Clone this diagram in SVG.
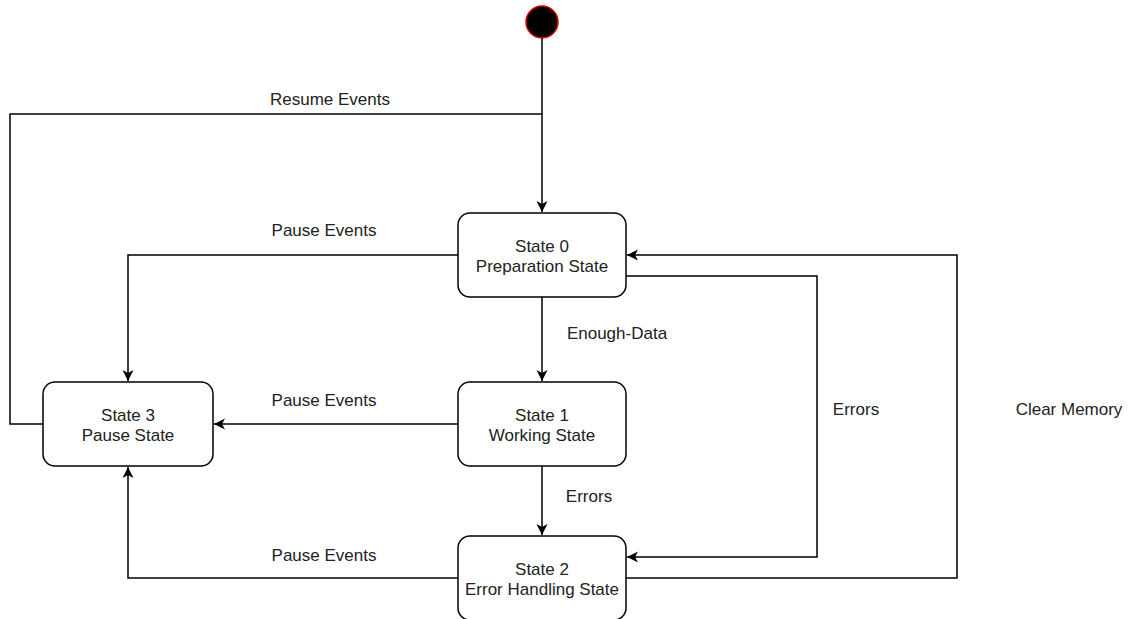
<svg xmlns="http://www.w3.org/2000/svg" width="1128" height="619" viewBox="0 0 1128 619">
<style>
.st{fill:#fff;stroke:#000;stroke-width:1.5}
.ed{fill:none;stroke:#000;stroke-width:1.5}
text{font-family:"Liberation Sans",Arial,sans-serif;font-size:17px;fill:#222;text-anchor:middle}
</style>
<defs>
<marker id="arr" viewBox="0 0 12 12" refX="11" refY="6" markerWidth="12" markerHeight="12" markerUnits="userSpaceOnUse" orient="auto">
<path d="M0,0.5 L11,6 L0,11.5 L3,6 z" fill="#000"/>
</marker>
</defs>
<rect width="1128" height="619" fill="#fff"/>
<g id="connectors">
<path class="ed" d="M542,38 V212" marker-end="url(#arr)"/>
<path class="ed" d="M43,424 H10 V114 H542"/>
<path class="ed" d="M458,255 H128 V381" marker-end="url(#arr)"/>
<path class="ed" d="M542,297 V381" marker-end="url(#arr)"/>
<path class="ed" d="M458,424 H214" marker-end="url(#arr)"/>
<path class="ed" d="M542,466 V535" marker-end="url(#arr)"/>
<path class="ed" d="M626,276 H817 V557 H627" marker-end="url(#arr)"/>
<path class="ed" d="M626,578 H957 V255 H627" marker-end="url(#arr)"/>
<path class="ed" d="M458,578 H128 V467" marker-end="url(#arr)"/>
<text x="330" y="105">Resume Events</text>
<text x="324" y="236">Pause Events</text>
<text x="617" y="339">Enough-Data</text>
<text x="324" y="406">Pause Events</text>
<text x="589" y="502">Errors</text>
<text x="856" y="415">Errors</text>
<text x="1069" y="415">Clear Memory</text>
<text x="324" y="561">Pause Events</text>
</g>
<g id="start">
<circle cx="542" cy="22" r="16" fill="#000" stroke="#e00000" stroke-width="1.5"/>
</g>
<g id="state0">
<rect class="st" x="458" y="213" width="168" height="84" rx="12"/>
<text x="542" y="252">State 0</text>
<text x="542" y="272">Preparation State</text>
</g>
<g id="state1">
<rect class="st" x="458" y="382" width="168" height="84" rx="12"/>
<text x="542" y="421">State 1</text>
<text x="542" y="441">Working State</text>
</g>
<g id="state2">
<rect class="st" x="458" y="536" width="168" height="84" rx="12"/>
<text x="542" y="575">State 2</text>
<text x="542" y="595">Error Handling State</text>
</g>
<g id="state3">
<rect class="st" x="43" y="382" width="170" height="84" rx="12"/>
<text x="128" y="421">State 3</text>
<text x="128" y="441">Pause State</text>
</g>
</svg>
